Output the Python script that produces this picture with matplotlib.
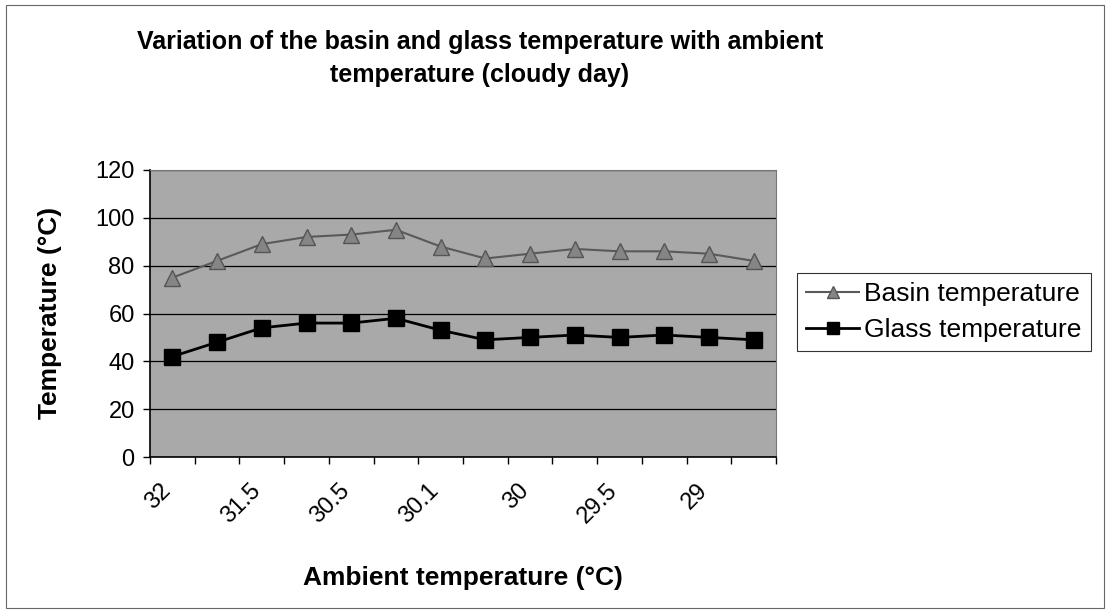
import matplotlib
matplotlib.use("Agg")
import matplotlib.pyplot as plt
from matplotlib.patches import Rectangle
from matplotlib.transforms import ScaledTranslation

plt.rcParams['font.family'] = ['Liberation Sans', 'DejaVu Sans']

# --- data ---
basin_temp = [75, 82, 89, 92, 93, 95, 88, 83, 85, 87, 86, 86, 85, 82]
glass_temp = [42, 48, 54, 56, 56, 58, 53, 49, 50, 51, 50, 51, 50, 49]
# only every second category carries a label
x_labels = ["32", "31.5", "30.5", "30.1", "30", "29.5", "29"]
y_ticks = [0, 20, 40, 60, 80, 100, 120]

fig = plt.figure(figsize=(11.08, 6.12), dpi=100)
ax = fig.add_axes([150 / 1108, 1 - 457 / 612, 626 / 1108, 287 / 612])

n = len(basin_temp)
xs = list(range(n))

ax.set_facecolor('#a9a9a9')
ax.set_axisbelow(True)
ax.grid(axis='y', color='black', linewidth=0.9)

ax.plot(xs, basin_temp, color='#5a5a5a', linewidth=1.5, marker='^',
        markersize=11, markerfacecolor='#858585', markeredgecolor='#555555',
        label='Basin temperature')
ax.plot(xs, glass_temp, color='black', linewidth=2.0, marker='s',
        markersize=11, markerfacecolor='black', markeredgecolor='black',
        label='Glass temperature')

ax.set_xlim(-0.5, n - 0.5)
ax.set_ylim(0, 120)
ax.set_yticks(y_ticks)
ax.set_yticklabels([str(v) for v in y_ticks], fontsize=17)

# tick marks on category boundaries, labels at every other category centre
ax.set_xticks([i - 0.5 for i in range(n + 1)])
ax.set_xticklabels([])
ax.set_xticks(xs[::2], minor=True)
ax.set_xticklabels(x_labels, minor=True, rotation=45, ha='right',
                   va='center', rotation_mode='anchor', fontsize=17)
ax.tick_params(axis='x', which='minor', length=0, pad=22)
ax.tick_params(axis='x', which='major', length=5, width=1, direction='out')
ax.tick_params(axis='y', length=5, width=1, direction='out', pad=6)
shift = ScaledTranslation(-5 / 100, 0, fig.dpi_scale_trans)
for lab in ax.get_xticklabels(minor=True):
    lab.set_transform(lab.get_transform() + shift)

for side in ['top', 'right']:
    ax.spines[side].set_color('#777777')
for side in ['left', 'bottom']:
    ax.spines[side].set_color('black')
    ax.spines[side].set_linewidth(1.2)

fig.text(50 / 1108, 1 - 313 / 612, 'Temperature (°C)', fontsize=19,
         fontweight='bold', rotation=90, ha='center', va='center')
fig.text(463 / 1108, 1 - 578 / 612, 'Ambient temperature (°C)', fontsize=19,
         fontweight='bold', ha='center', va='center')

fig.text(480 / 1108, 1 - 42 / 612,
         'Variation of the basin and glass temperature with ambient',
         fontsize=18, fontweight='bold', ha='center', va='center')
fig.text(480 / 1108, 1 - 75 / 612, 'temperature (cloudy day)',
         fontsize=18, fontweight='bold', ha='center', va='center')

leg = fig.legend(loc='upper left', bbox_to_anchor=(797 / 1108, 1 - 273 / 612),
                 fontsize=19, frameon=True, fancybox=False, handlelength=2.0,
                 handletextpad=0.2, borderpad=0.35, labelspacing=0.45,
                 borderaxespad=0, markerscale=0.75)
leg.get_frame().set_edgecolor('black')
leg.get_frame().set_linewidth(0.8)

# outer chart border
fig.patches.append(Rectangle((6 / 1108, 4 / 612), 1098 / 1108, 603 / 612,
                             transform=fig.transFigure, fill=False,
                             edgecolor='#666666', linewidth=0.8))

fig.savefig('out.png', dpi=100)
